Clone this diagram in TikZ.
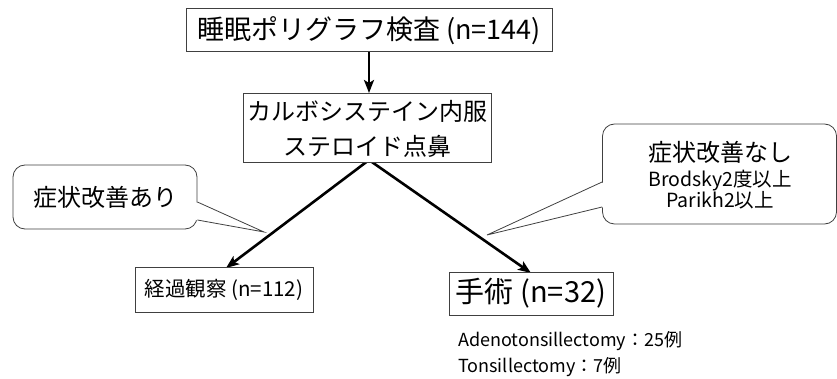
\documentclass[tikz,border=0pt]{standalone}
\usepackage{fontspec}
\setmainfont{Noto Sans CJK JP}
\usetikzlibrary{arrows.meta}
\tikzset{
  box/.style={draw=black!75, line width=1pt, inner sep=0pt, align=center, fill=white},
  callout/.style={draw=black!75, line width=0.8pt, rounded corners=12pt, inner sep=0pt, align=center, fill=white},
  flow/.style={line width=2.6pt, -{Stealth[length=13pt,width=10pt,inset=3pt]}},
  fs/.style={font=\fontsize{#1}{#1}\selectfont}
}
\begin{document}
\begin{tikzpicture}[x=1pt,y=-1pt]
\useasboundingbox (0,0) rectangle (837,379);
\coordinate (apex) at (369,160);
\node[box, minimum width=366pt, minimum height=43pt, fs=27] (psg) at (369,30.5) {睡眠ポリグラフ検査 (n=144)};
\draw[flow] (psg.south -| apex) -- (369,93);
\draw[flow] (apex) -- (226,268);
\draw[flow] (apex) -- (531,273);
\node[box, minimum width=248pt, minimum height=69pt, fs=24] (med) at (367,128.5) {カルボシステイン内服\\[11pt]ステロイド点鼻};
\node[box, minimum width=178pt, minimum height=45pt, fs=20.5] (obs) at (224,289.5) {経過観察 (n=112)};
\node[box, minimum width=164pt, minimum height=43pt, fs=29] (op) at (531,293.5) {手術 (n=32)};
% left callout
\node[callout, minimum width=184pt, minimum height=64pt, fs=24] (good) at (105,197) {症状改善あり};
\coordinate (gb1) at (good.east |- 0,202);
\coordinate (gb2) at (good.east |- 0,220);
\coordinate (gtip) at (264,232);
\fill[white] ([xshift=-2pt]gb1) -- (gtip) -- ([xshift=-2pt]gb2) -- cycle;
\draw[black!75, line width=0.8pt] (gb1) -- (gtip) -- (gb2);
% right callout
\node[callout, minimum width=234pt, minimum height=100pt, fs=24] (bad) at (719.5,174) {};
\node[fs=24, inner sep=0pt] (badt) at (720,152) {症状改善なし};
\node[inner sep=0pt, align=center, font=\fontsize{19.5}{21}\selectfont] (badc) at (720,189.5) {Brodsky2度以上\\Parikh2以上};
\coordinate (bb1) at (bad.west |- 0,182);
\coordinate (bb2) at (bad.west |- 0,207);
\coordinate (btip) at (487,235);
\fill[white] ([xshift=2pt]bb1) -- (btip) -- ([xshift=2pt]bb2) -- cycle;
\draw[black!75, line width=0.8pt] (bb1) -- (btip) -- (bb2);
% surgery details
\node[anchor=west, inner sep=0pt, fs=18, align=left] (det) at (458,354) {Adenotonsillectomy：25例\\[6pt]Tonsillectomy：7例};
\end{tikzpicture}
\end{document}
